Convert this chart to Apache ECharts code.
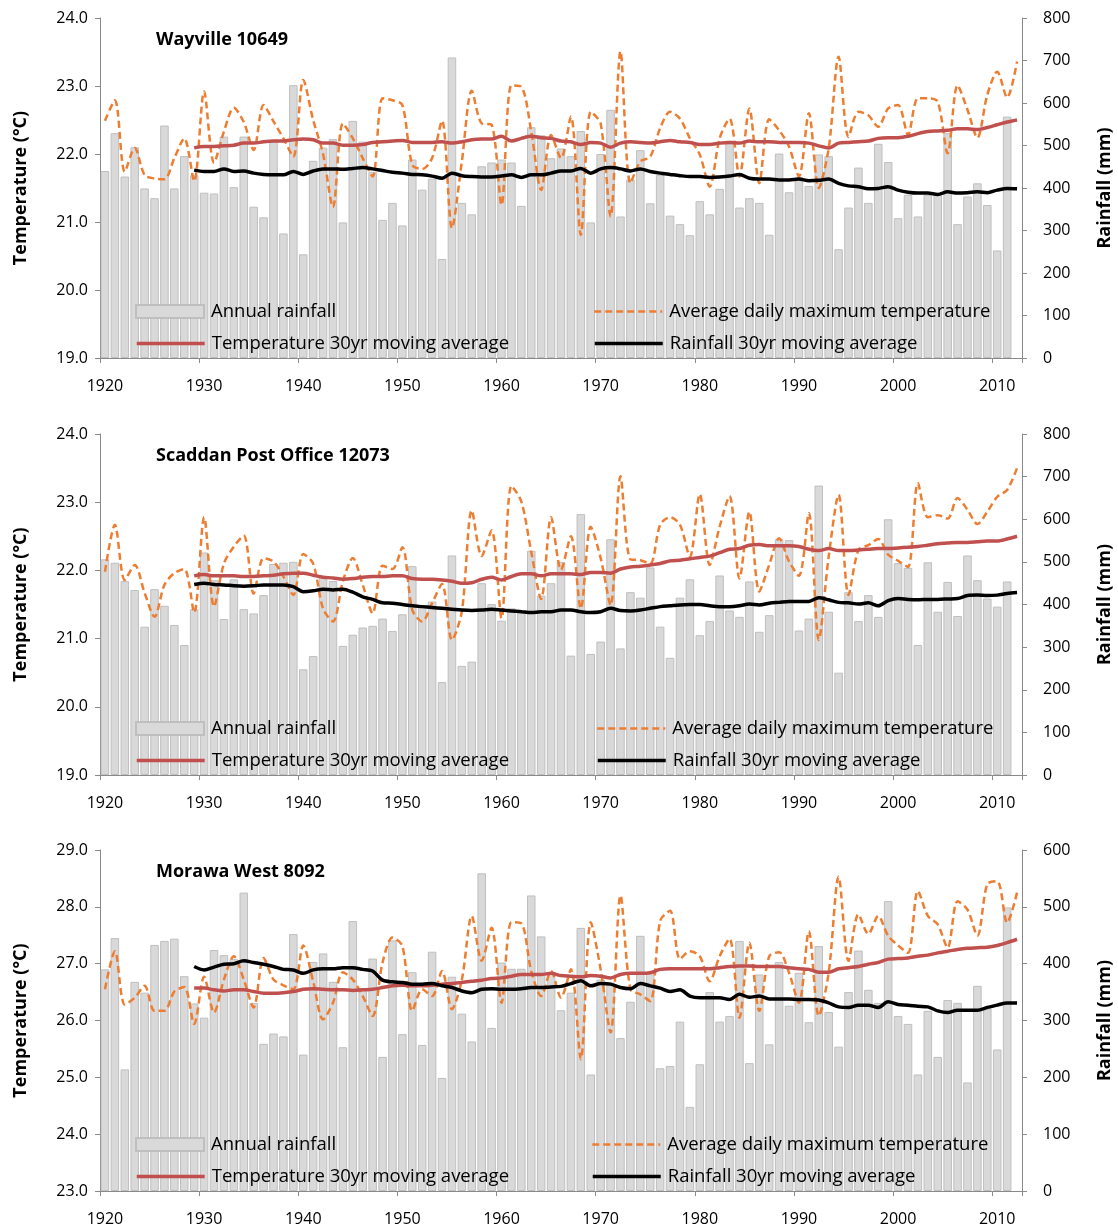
<!DOCTYPE html>
<html><head><meta charset="utf-8">
<script src="https://cdn.jsdelivr.net/npm/echarts@6/dist/echarts.min.js"></script>
<style>html,body{margin:0;padding:0;background:#fff}#c{width:1118px;height:1227px}</style>
</head><body><div id="c"></div><script>
const years = []; for (let y = 1920; y <= 2012; y++) years.push(String(y));
const stationNames = ['Wayville 10649', 'Scaddan Post Office 12073', 'Morawa West 8092'];
const tempRanges = [[19, 24], [19, 24], [23, 29]];
const rainRanges = [[0, 800], [0, 800], [0, 600]];
const seriesNames = ['Annual rainfall', 'Average daily maximum temperature', 'Temperature 30yr moving average', 'Rainfall 30yr moving average'];

// Wayville 10649
const wayRain = [440,529,427,496,399,376,547,399,475,430,389,387,521,402,521,356,331,509,293,642,244,464,495,
515,319,558,509,438,325,365,312,467,396,422,233,707,365,338,451,460,467,460,358,543,524,470,493,
475,534,319,480,584,333,420,489,364,431,335,315,289,369,338,398,511,354,376,365,290,481,390,
425,405,479,475,256,354,448,365,504,461,329,384,333,384,384,529,315,380,411,360,253,568,null];
const wayTemp = [22.49,22.79,21.74,22.09,21.69,21.64,21.63,21.94,22.23,21.60,22.92,21.87,22.33,22.68,22.47,22.06,22.72,22.48,22.23,21.96,23.09,22.50,22.00,
21.22,22.45,22.23,21.94,21.67,22.82,22.79,22.72,21.84,21.78,21.94,22.49,20.91,21.89,22.93,22.45,22.43,21.25,23.01,22.99,22.33,21.47,22.28,21.94,
22.55,20.81,22.62,22.45,21.08,23.51,21.57,21.89,21.96,22.38,22.62,22.52,22.23,21.99,21.52,22.23,22.52,21.67,22.67,21.57,22.51,22.35,22.11,
21.67,22.60,21.50,22.08,23.43,22.25,22.62,22.57,22.40,22.67,22.72,22.28,22.82,22.82,22.77,22.01,23.01,22.65,22.24,22.87,23.21,22.83,23.36];
const wayTempMA = [null,null,null,null,null,null,null,null,null,22.09,22.11,22.11,22.12,22.13,22.16,22.16,22.18,22.19,22.19,22.21,22.22,22.21,22.16,
22.16,22.13,22.13,22.14,22.17,22.18,22.19,22.20,22.17,22.17,22.17,22.18,22.16,22.18,22.21,22.22,22.22,22.26,22.19,22.23,22.26,22.24,22.23,22.19,
22.18,22.14,22.17,22.16,22.10,22.16,22.18,22.17,22.16,22.18,22.20,22.18,22.17,22.14,22.14,22.16,22.17,22.16,22.19,22.18,22.18,22.17,22.17,
22.17,22.16,22.12,22.09,22.16,22.17,22.18,22.19,22.23,22.24,22.24,22.26,22.30,22.33,22.34,22.35,22.37,22.37,22.36,22.39,22.43,22.47,22.50];
const wayRainMA = [null,null,null,null,null,null,null,null,null,442,439,439,445,439,440,435,432,431,431,439,432,440,445,
445,444,446,448,445,441,437,435,432,431,428,423,435,429,427,426,426,428,431,425,431,431,435,440,
440,446,435,445,448,445,440,445,439,435,432,429,427,427,425,426,428,432,423,421,421,419,419,
421,417,418,421,411,405,403,398,399,403,395,390,388,388,385,391,388,389,391,389,395,399,398];

// Scaddan Post Office 12073
const scaRain = [506,498,455,434,348,436,397,352,305,389,522,457,366,459,389,379,422,495,498,500,248,279,465,
455,303,329,346,350,367,338,377,490,395,407,218,515,256,266,450,401,362,391,383,526,421,450,500,
280,612,284,313,553,297,429,416,487,348,275,416,459,328,361,468,386,371,454,336,375,553,551,
339,367,679,383,240,429,361,422,371,600,497,486,305,499,383,453,373,515,457,414,395,454,null];
const scaTemp = [21.98,22.67,21.86,22.08,21.67,21.32,21.79,21.96,22.02,21.38,22.78,21.47,22.10,22.35,22.51,21.66,22.18,22.13,21.91,21.64,22.24,22.10,21.44,
21.25,21.84,22.18,21.79,21.37,22.07,22.02,22.34,21.42,21.25,21.52,21.80,20.98,21.40,22.88,22.21,22.59,21.30,23.24,23.01,22.27,21.58,22.78,22.01,
22.50,21.44,22.64,22.18,21.49,23.38,22.16,22.15,22.10,22.67,22.78,22.67,22.20,23.12,22.08,22.64,23.09,21.88,22.86,21.69,22.08,22.47,22.13,
21.92,22.84,20.98,22.20,23.11,21.64,22.30,22.37,22.46,22.23,22.14,22.05,23.28,22.78,22.81,22.76,23.06,22.89,22.68,22.86,23.08,23.18,23.50];
const scaTempMA = [null,null,null,null,null,null,null,null,null,21.92,21.94,21.92,21.92,21.92,21.91,21.91,21.92,21.93,21.95,21.96,21.96,21.93,21.90,
21.89,21.87,21.88,21.90,21.91,21.91,21.92,21.92,21.88,21.87,21.87,21.86,21.84,21.81,21.82,21.87,21.90,21.86,21.91,21.95,21.95,21.92,21.95,21.95,
21.95,21.94,21.97,21.97,21.96,22.02,22.05,22.06,22.08,22.10,22.14,22.15,22.17,22.19,22.21,22.26,22.31,22.32,22.37,22.38,22.36,22.36,22.36,
22.35,22.31,22.29,22.32,22.29,22.29,22.30,22.31,22.32,22.32,22.33,22.34,22.35,22.37,22.39,22.40,22.41,22.41,22.42,22.43,22.43,22.46,22.50];
const scaRainMA = [null,null,null,null,null,null,null,null,null,447,450,447,446,444,443,444,446,446,446,442,430,432,436,
434,436,429,418,412,404,403,400,397,395,393,391,389,387,386,387,389,387,385,383,381,383,383,387,
387,383,381,383,391,386,385,387,391,395,397,399,400,400,397,395,395,397,401,399,403,405,407,
407,407,416,411,405,404,401,404,397,409,414,412,411,412,412,413,414,421,422,421,422,426,428];

// Morawa West 8092
const morRain = [390,445,214,368,349,433,440,444,378,330,305,424,415,408,525,331,259,277,272,452,240,403,418,
368,253,475,355,409,236,441,276,385,257,421,199,377,312,263,559,287,402,391,391,520,448,385,318,
349,463,205,372,367,269,333,449,385,216,220,298,148,223,350,298,308,440,225,381,258,403,326,
384,297,431,315,254,350,423,354,331,510,308,294,205,317,236,336,331,191,361,321,249,499,null];
const morTemp = [26.55,27.22,26.28,26.40,26.61,26.17,26.17,26.51,26.59,25.94,26.77,26.14,26.72,27.13,26.72,26.23,27.10,26.72,26.62,26.55,27.32,26.69,26.02,
26.31,26.85,26.72,26.43,26.08,27.02,27.46,27.31,26.17,26.55,26.43,26.87,26.20,26.72,27.84,27.05,27.63,26.31,27.73,27.71,26.87,26.43,26.87,26.40,
26.90,25.32,27.73,26.90,25.79,28.20,26.55,26.46,26.34,27.75,27.93,27.08,27.22,27.13,26.69,27.13,27.44,26.05,27.37,26.17,27.13,27.20,26.84,
26.31,27.57,26.08,26.84,28.53,27.05,27.87,27.52,27.84,27.49,27.32,27.19,28.28,27.84,27.69,27.28,28.10,27.95,27.49,28.40,28.45,27.72,28.25];
const morTempMA = [null,null,null,null,null,null,null,null,null,26.57,26.57,26.54,26.52,26.54,26.54,26.51,26.48,26.48,26.49,26.51,26.55,26.56,26.55,
26.54,26.54,26.53,26.54,26.55,26.58,26.61,26.62,26.61,26.61,26.62,26.64,26.65,26.67,26.69,26.71,26.74,26.75,26.78,26.81,26.81,26.81,26.83,26.79,
26.78,26.77,26.79,26.78,26.75,26.81,26.83,26.83,26.84,26.90,26.91,26.91,26.91,26.91,26.91,26.93,26.95,26.96,26.96,26.95,26.95,26.95,26.93,
26.91,26.90,26.85,26.85,26.91,26.93,26.95,26.99,27.02,27.08,27.09,27.10,27.13,27.15,27.19,27.22,27.25,27.27,27.28,27.29,27.32,27.37,27.43];
const morRainMA = [null,null,null,null,null,null,null,null,null,395,389,394,399,400,405,402,399,395,390,389,383,389,391,
391,393,393,390,387,371,368,367,364,364,365,361,358,352,349,355,356,355,355,356,358,358,359,360,
365,370,361,365,364,358,356,365,361,357,351,354,343,340,340,340,337,346,341,343,338,338,338,
337,337,336,331,324,323,327,327,323,333,328,327,325,324,317,314,318,318,318,323,327,331,331];

const panels = [
  [wayRain, wayTemp, wayTempMA, wayRainMA],
  [scaRain, scaTemp, scaTempMA, scaRainMA],
  [morRain, morTemp, morTempMA, morRainMA]
];

const FONT = 'Open Sans';
const AX = '#898989';
const ORANGE = '#ED7D31', RED = '#C0504D', BLACK = '#000000';
const gridTops = [18, 434, 850];
const gridHeights = [340, 341, 341];
const legendRow1 = [302, 719, 1135];
const legendRow2 = [334, 751, 1167];
const legendCol2 = [593, 596, 591];
const decade = (i, v) => Number(v) % 10 === 0;

const option = {
  animation: false,
  backgroundColor: '#fff',
  textStyle: { fontFamily: FONT },
  title: [], grid: [], xAxis: [], yAxis: [], series: [], legend: []
};

const lineStyles = {
  [seriesNames[1]]: { color: ORANGE, width: 2.5, type: [7, 4] },
  [seriesNames[2]]: { color: RED, width: 3.5, type: 'solid' },
  [seriesNames[3]]: { color: BLACK, width: 3.5, type: 'solid' }
};

panels.forEach((p, i) => {
  option.title.push({ text: stationNames[i], left: 151, top: gridTops[i] + 8,
    textStyle: { fontFamily: FONT, fontSize: 18, fontWeight: 'bold', color: '#000' } });
  option.grid.push({ left: 100, right: 96, top: gridTops[i], height: gridHeights[i],
    containLabel: false, outerBoundsMode: 'none' });
  option.xAxis.push({
    type: 'category', gridIndex: i, data: years, boundaryGap: true,
    axisLine: { lineStyle: { color: AX, width: 1 } },
    axisTick: { show: true, interval: decade, length: 5, lineStyle: { color: AX } },
    axisLabel: { interval: decade, color: '#000', fontSize: 16, fontFamily: FONT, margin: 20 },
    splitLine: { show: false }
  });
  option.yAxis.push({
    type: 'value', gridIndex: i, position: 'left', min: tempRanges[i][0], max: tempRanges[i][1], interval: 1,
    name: 'Temperature (°C)', nameLocation: 'middle', nameRotate: 90, nameGap: 70,
    nameTextStyle: { fontFamily: FONT, fontSize: 18, fontWeight: 'bold', color: '#000' },
    axisLine: { show: true, lineStyle: { color: AX } },
    axisTick: { show: true, length: 5, lineStyle: { color: AX } },
    axisLabel: { color: '#000', fontSize: 16, fontFamily: FONT, margin: 12, formatter: v => v.toFixed(1) },
    splitLine: { show: false }
  });
  option.yAxis.push({
    type: 'value', gridIndex: i, position: 'right', min: rainRanges[i][0], max: rainRanges[i][1], interval: 100,
    name: 'Rainfall (mm)', nameLocation: 'middle', nameRotate: 90, nameGap: 74,
    nameTextStyle: { fontFamily: FONT, fontSize: 18, fontWeight: 'bold', color: '#000' },
    axisLine: { show: true, lineStyle: { color: AX } },
    axisTick: { show: true, length: 5, lineStyle: { color: AX } },
    axisLabel: { color: '#000', fontSize: 16, fontFamily: FONT, margin: 21 },
    splitLine: { show: false }
  });
  option.series.push({
    name: seriesNames[0], type: 'bar', xAxisIndex: i, yAxisIndex: 2 * i + 1, data: p[0],
    barCategoryGap: '14%',
    itemStyle: { color: '#d9d9d9', borderColor: '#bfbfbf', borderWidth: 1 }
  });
  option.series.push({
    name: seriesNames[1], type: 'line', xAxisIndex: i, yAxisIndex: 2 * i, data: p[1],
    symbol: 'none', smooth: 0.3,
    lineStyle: lineStyles[seriesNames[1]], itemStyle: { color: ORANGE }
  });
  option.series.push({
    name: seriesNames[2], type: 'line', xAxisIndex: i, yAxisIndex: 2 * i, data: p[2],
    symbol: 'none', smooth: 0.3, connectNulls: false,
    lineStyle: lineStyles[seriesNames[2]], itemStyle: { color: RED }
  });
  option.series.push({
    name: seriesNames[3], type: 'line', xAxisIndex: i, yAxisIndex: 2 * i + 1, data: p[3],
    symbol: 'none', smooth: 0.3, connectNulls: false,
    lineStyle: lineStyles[seriesNames[3]], itemStyle: { color: BLACK }
  });
  const lg = (name, left, top) => {
    const isBar = name === seriesNames[0];
    const l = {
      data: [isBar ? { name: name, icon: 'rect' } : { name: name }],
      left: left, top: top, selectedMode: false, itemWidth: 68, itemHeight: 13, itemGap: 0, padding: 0,
      textStyle: { fontFamily: FONT, fontSize: 18.5, color: '#000', padding: [0, 0, 0, 2] }
    };
    if (!isBar) {
      l.itemStyle = { color: 'rgba(0,0,0,0)', borderWidth: 0, opacity: 0 };
      l.lineStyle = Object.assign({}, lineStyles[name]);
    }
    return l;
  };
  option.legend.push(lg(seriesNames[0], 135, legendRow1[i]));
  option.legend.push(lg(seriesNames[1], legendCol2[i], legendRow1[i]));
  option.legend.push(lg(seriesNames[2], 135, legendRow2[i]));
  option.legend.push(lg(seriesNames[3], legendCol2[i], legendRow2[i]));
});

const chart = echarts.init(document.getElementById('c'), null, { renderer: 'canvas' });
chart.setOption(option);
</script></body></html>
